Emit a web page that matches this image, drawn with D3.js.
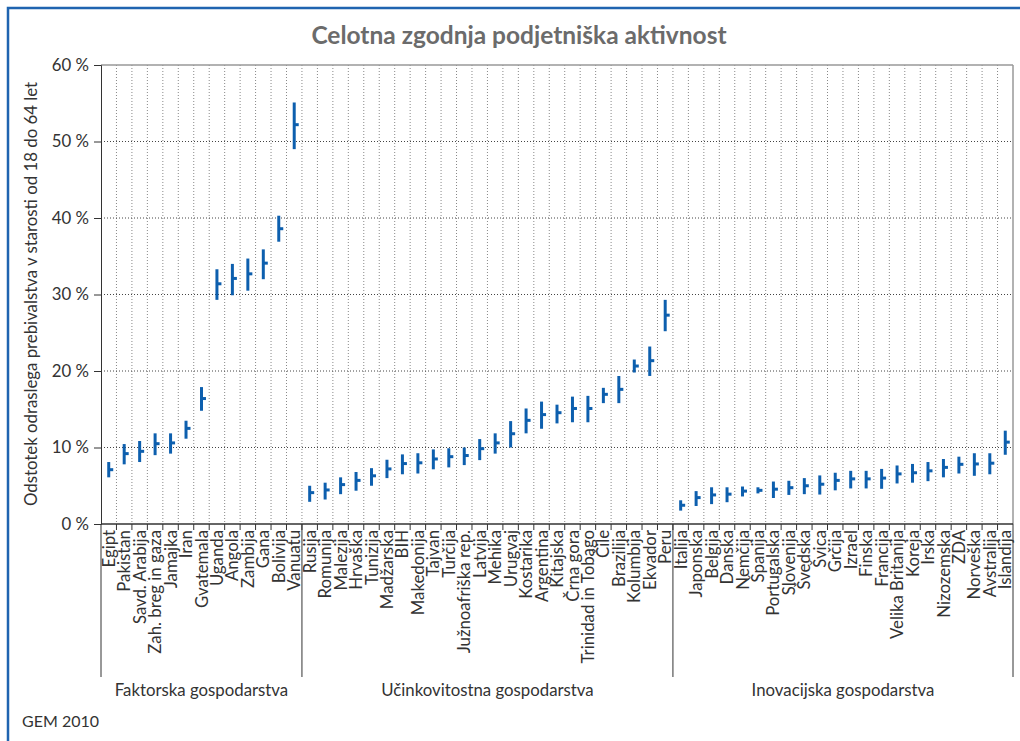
<!DOCTYPE html>
<html><head><meta charset="utf-8">
<script src="https://cdn.jsdelivr.net/npm/d3@7"></script>
<style>
body{margin:0;background:#fff;}
svg{display:block;font-family:Lato,"Open Sans",sans-serif;}
</style></head>
<body>
<svg id="c" width="1020" height="741"></svg>
<script>
const factorCountries = ["Egipt","Pakistan","Savd. Arabija","Zah. breg in gaza","Jamajka","Iran","Gvatemala","Uganda","Angola","Zambija","Gana","Bolivija","Vanuatu"];
const factorMean = [7.1,9.2,9.5,10.5,10.6,12.5,16.4,31.4,32.1,32.7,34.1,38.6,52.2];
const factorLow  = [6.1,7.8,8.1,9.0,9.2,11.15,14.8,29.3,29.9,30.5,32.0,36.9,49.0];
const factorHigh = [8.1,10.45,10.85,11.85,11.85,13.5,17.9,33.3,34.0,34.7,35.9,40.3,55.1];

const efficiencyCountries = ["Rusija","Romunija","Malezija","Hrvaška","Tunizija","Madžarska","BIH","Makedonija","Tajvan","Turčija","Južnoafriška rep.","Latvija","Mehika","Urugvaj","Kostarika","Argentina","Kitajska","Črna gora","Trinidad in Tobago","Čile","Brazilija","Kolumbija","Ekvador","Peru"];
const efficiencyMean = [4.1,4.45,5.15,5.7,6.3,7.2,7.9,8.0,8.5,8.8,8.95,9.85,10.6,11.8,13.55,14.3,14.55,15.1,15.1,16.95,17.6,20.65,21.35,27.3];
const efficiencyLow  = [2.9,3.2,3.9,4.35,5.0,6.0,6.5,6.6,7.15,7.4,7.7,8.35,9.2,10.0,11.85,12.45,13.15,13.3,13.3,15.8,15.8,19.8,19.35,25.2];
const efficiencyHigh = [5.0,5.4,6.1,6.8,7.3,8.4,9.1,9.25,9.75,9.9,10.0,11.1,11.85,13.45,15.1,16.0,15.6,16.65,16.75,17.8,19.35,21.5,23.2,29.3];

const innovationCountries = ["Italija","Japonska","Belgija","Danska","Nemčija","Španija","Portugalska","Slovenija","Švedska","Švica","Grčija","Izrael","Finska","Francija","Velika Britanija","Koreja","Irska","Nizozemska","ZDA","Norveška","Avstralija","Islandija"];
const innovationMean = [2.45,3.45,3.8,3.9,4.3,4.4,4.55,4.75,5.0,5.2,5.7,5.9,5.9,6.0,6.55,6.7,6.95,7.4,7.8,7.85,7.95,10.7];
const innovationLow  = [1.75,2.35,2.6,2.85,3.6,4.0,3.4,3.8,3.9,3.85,4.4,4.65,4.65,4.6,5.3,5.4,5.6,6.1,6.6,6.3,6.5,9.05];
const innovationHigh = [3.1,4.3,4.8,4.8,4.9,4.8,5.55,5.65,6.0,6.35,6.7,6.95,6.95,7.2,7.65,7.85,8.1,8.5,8.8,9.25,9.25,12.2];

const groupNames = ["Faktorska gospodarstva","Učinkovitostna gospodarstva","Inovacijska gospodarstva"];
const yTicks = [0,10,20,30,40,50,60];
const titleText = "Celotna zgodnja podjetniška aktivnost";
const yTitle = "Odstotek odraslega prebivalstva v starosti od 18 do 64 let";
const sourceText = "GEM 2010";

const groups = [
  {name:groupNames[0], countries:factorCountries, mean:factorMean, low:factorLow, high:factorHigh},
  {name:groupNames[1], countries:efficiencyCountries, mean:efficiencyMean, low:efficiencyLow, high:efficiencyHigh},
  {name:groupNames[2], countries:innovationCountries, mean:innovationMean, low:innovationLow, high:innovationHigh}
];
const rows = [];
groups.forEach((g,gi)=>g.countries.forEach((c,i)=>rows.push({country:c,group:gi,mean:g.mean[i],low:g.low[i],high:g.high[i]})));

const svg = d3.select("#c");
const L=101, R=1013, T=65, B=524;
const x = d3.scaleBand().domain(rows.map(d=>d.country)).range([L,R]).paddingInner(0).paddingOuter(0);
const y = d3.scaleLinear().domain([0,60]).range([B,T]);
const bw = x.bandwidth();
const blue = "#0d5fae";
const FS = 16.8;

// outer frame
svg.append("path").attr("d",`M8,745 L8,8 L1030,8`).attr("fill","none").attr("stroke","#1f64b0").attr("stroke-width",2.5);

// title
svg.append("text").attr("x",519).attr("y",44).attr("text-anchor","middle")
  .attr("font-size",24.5).attr("font-weight","bold").attr("fill","#6b6b6b").text(titleText);

// vertical grid at category boundaries
const bounds = rows.map(d=>x(d.country)).slice(1);
svg.append("g").selectAll("line").data(bounds).join("line")
  .attr("x1",d=>d).attr("x2",d=>d).attr("y1",T).attr("y2",B)
  .attr("stroke","#888").attr("stroke-width",1).attr("stroke-dasharray","1,2");

// horizontal grid
svg.append("g").selectAll("line").data(yTicks.filter(t=>t>0&&t<60)).join("line")
  .attr("x1",L).attr("x2",R).attr("y1",d=>y(d)).attr("y2",d=>y(d))
  .attr("stroke","#444").attr("stroke-width",1).attr("stroke-dasharray","1,2");

// plot top and right border
svg.append("line").attr("x1",L).attr("x2",R).attr("y1",y(60)).attr("y2",y(60)).attr("stroke","#999").attr("stroke-width",1.5);
svg.append("line").attr("x1",R).attr("x2",R).attr("y1",T).attr("y2",B).attr("stroke","#999").attr("stroke-width",1.5);

// y axis
const yAxis = d3.axisLeft(y).tickValues(yTicks).tickFormat(d=>d+" %").tickSize(7).tickPadding(5);
const ga = svg.append("g").attr("transform",`translate(${L},0)`).call(yAxis);
ga.select(".domain").attr("stroke","#333");
ga.selectAll(".tick line").attr("stroke","#333");
ga.selectAll("text").attr("font-size",FS).attr("fill","#333").attr("font-family","Lato,'Open Sans',sans-serif");

// y title
svg.append("text").attr("transform",`translate(37,294) rotate(-90)`).attr("text-anchor","middle")
  .attr("font-size",FS).attr("fill","#333").text(yTitle);

// x axis
const xAxis = d3.axisBottom(x).tickSize(0).tickPadding(6);
const gx = svg.append("g").attr("transform",`translate(0,${B})`).call(xAxis);
gx.select(".domain").remove();
gx.selectAll(".tick text").attr("font-size",FS).attr("fill","#333").attr("font-family","Lato,'Open Sans',sans-serif")
  .attr("transform","rotate(-90)").attr("text-anchor","end").attr("dy","0.36em").attr("x",-6).attr("y",0);
svg.append("line").attr("x1",L).attr("x2",R).attr("y1",B).attr("y2",B).attr("stroke","#333").attr("stroke-width",1.5);
svg.append("g").selectAll("line").data(bounds).join("line")
  .attr("x1",d=>d).attr("x2",d=>d).attr("y1",B).attr("y2",B+6).attr("stroke","#333");

// group separators and labels
let idx=0; const seps=[L];
groups.forEach(g=>{idx+=g.countries.length; seps.push(idx<rows.length?x(rows[idx].country):R);});
svg.append("g").selectAll("line").data(seps).join("line")
  .attr("x1",d=>d).attr("x2",d=>d).attr("y1",B).attr("y2",677).attr("stroke","#333");
svg.append("g").selectAll("text").data(groups).join("text")
  .attr("x",(d,i)=>(seps[i]+seps[i+1])/2).attr("y",696).attr("text-anchor","middle")
  .attr("font-size",FS).attr("fill","#333").text(d=>d.name);

// marks
const m = svg.append("g");
m.selectAll("line").data(rows).join("line")
  .attr("x1",d=>x(d.country)+bw/2).attr("x2",d=>x(d.country)+bw/2)
  .attr("y1",d=>y(d.low)).attr("y2",d=>y(d.high))
  .attr("stroke",blue).attr("stroke-width",3);
m.selectAll("rect").data(rows).join("rect")
  .attr("x",d=>x(d.country)+bw/2).attr("y",d=>y(d.mean)-1.5)
  .attr("width",4.5).attr("height",3).attr("fill",blue);

// source
svg.append("text").attr("x",22).attr("y",727).attr("font-size",16).attr("fill","#333").text(sourceText);
</script>
</body></html>
